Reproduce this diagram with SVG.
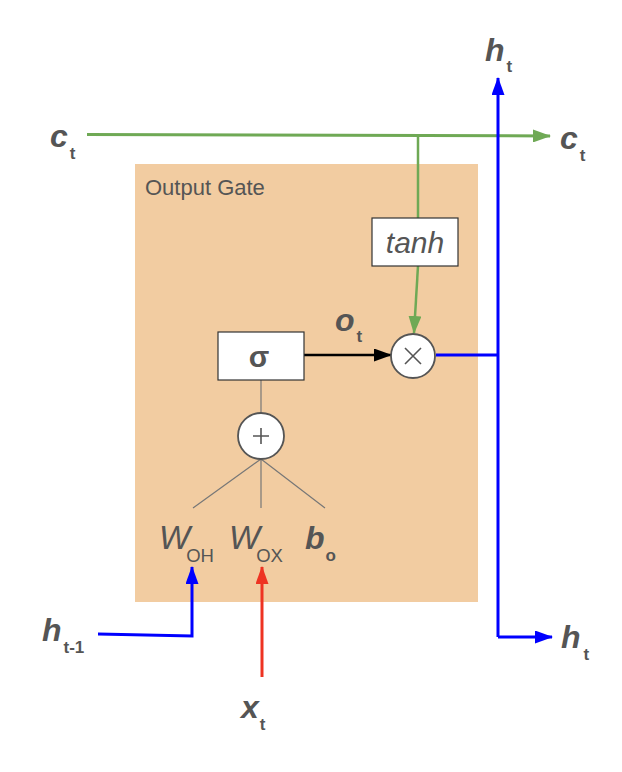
<svg xmlns="http://www.w3.org/2000/svg" width="622" height="772" viewBox="0 0 622 772">
<style>
.lbl{font-family:"Liberation Sans",Arial,sans-serif;fill:#555555}
.big{font-size:32px;font-weight:bold;font-style:italic}
.sub{font-size:17px;font-weight:bold}
.w{font-size:33px;font-style:italic}
.ws{font-size:18.5px}
.box{fill:#ffffff;stroke:#333333;stroke-width:1.2}
.circ{fill:#ffffff;stroke:#555555;stroke-width:1.8}
.thin{stroke:#777777;stroke-width:1.2;fill:none}
</style>
<defs>
<marker id="ag" markerWidth="18" markerHeight="13" refX="17" refY="6.5" orient="auto" markerUnits="userSpaceOnUse" viewBox="0 0 18 13"><path d="M0,0 L18,6.5 L0,13 z" fill="#6fa955"/></marker>
<marker id="ab" markerWidth="18" markerHeight="13" refX="17" refY="6.5" orient="auto" markerUnits="userSpaceOnUse" viewBox="0 0 18 13"><path d="M0,0 L18,6.5 L0,13 z" fill="#0000ff"/></marker>
<marker id="ar" markerWidth="18" markerHeight="13" refX="17" refY="6.5" orient="auto" markerUnits="userSpaceOnUse" viewBox="0 0 18 13"><path d="M0,0 L18,6.5 L0,13 z" fill="#ee3322"/></marker>
<marker id="ak" markerWidth="18" markerHeight="13" refX="17" refY="6.5" orient="auto" markerUnits="userSpaceOnUse" viewBox="0 0 18 13"><path d="M0,0 L18,6.5 L0,13 z" fill="#000000"/></marker>
</defs>
<g id="gate">
<rect x="135" y="164" width="343" height="438" fill="#f2cca1"/>
<text class="lbl" x="145" y="195" font-size="22">Output Gate</text>
</g>
<g id="connectors">
<path d="M87,134.5 L550,136" stroke="#6fa955" stroke-width="3" fill="none" marker-end="url(#ag)"/>
<path d="M418,136 L418,218" stroke="#6fa955" stroke-width="2.5" fill="none"/>
<path d="M418,266 L414,333" stroke="#6fa955" stroke-width="2.5" fill="none" marker-end="url(#ag)"/>
<path d="M304,355 L391,355" stroke="#000000" stroke-width="2.5" fill="none" marker-end="url(#ak)"/>
<path d="M436,355 L498,355" stroke="#0000ff" stroke-width="3" fill="none"/>
<path d="M498,637 L498,78" stroke="#0000ff" stroke-width="3" fill="none" marker-end="url(#ab)"/>
<path d="M498,637 L552,637" stroke="#0000ff" stroke-width="3" fill="none" marker-end="url(#ab)"/>
<path d="M98,634 L192,636 L192,567" stroke="#0000ff" stroke-width="3" fill="none" marker-end="url(#ab)"/>
<path d="M262,677 L262,567" stroke="#ee3322" stroke-width="3" fill="none" marker-end="url(#ar)"/>
<path d="M261,380 L261,413" class="thin"/>
<path d="M261,459 L193,508 M261,459 L261,508 M261,459 L325,508" class="thin"/>
</g>
<g id="tanh">
<rect class="box" x="372" y="218" width="86" height="48"/>
<text class="lbl" x="415" y="253" font-size="30" font-style="italic" text-anchor="middle">tanh</text>
</g>
<g id="sigma">
<rect class="box" x="218" y="332" width="86" height="48"/>
<text class="lbl" x="259" y="367" font-size="30" font-weight="bold" text-anchor="middle">σ</text>
</g>
<g id="mult">
<circle class="circ" cx="413" cy="356" r="22"/>
<path d="M405,348 L421,364 M421,348 L405,364" stroke="#555555" stroke-width="1.6"/>
</g>
<g id="plus">
<circle class="circ" cx="261" cy="436" r="23"/>
<path d="M253,436 L269,436 M261,428 L261,444" stroke="#555555" stroke-width="1.6"/>
</g>
<g id="labels">
<text class="lbl" x="50" y="147"><tspan class="big">c</tspan><tspan class="sub" dx="2" dy="12">t</tspan></text>
<text class="lbl" x="560" y="149"><tspan class="big">c</tspan><tspan class="sub" dx="2" dy="12">t</tspan></text>
<text class="lbl" x="485" y="61"><tspan class="big">h</tspan><tspan class="sub" dx="2" dy="11">t</tspan></text>
<text class="lbl" x="561" y="648"><tspan class="big">h</tspan><tspan class="sub" dx="3" dy="12">t</tspan></text>
<text class="lbl" x="42" y="641"><tspan class="big">h</tspan><tspan class="sub" dx="2" dy="12">t-1</tspan></text>
<text class="lbl" x="241" y="718"><tspan class="big">x</tspan><tspan class="sub" dx="1" dy="12">t</tspan></text>
<text class="lbl" x="335" y="331"><tspan class="big">o</tspan><tspan class="sub" dx="2" dy="11">t</tspan></text>
<text class="lbl" x="159" y="549"><tspan class="w">W</tspan><tspan class="ws" dx="-4" dy="13">OH</tspan></text>
<text class="lbl" x="229" y="549"><tspan class="w">W</tspan><tspan class="ws" dx="-4" dy="13">OX</tspan></text>
<text class="lbl" x="305" y="549"><tspan class="big">b</tspan><tspan class="sub" dx="1" dy="12" font-size="21">o</tspan></text>
</g>
</svg>
